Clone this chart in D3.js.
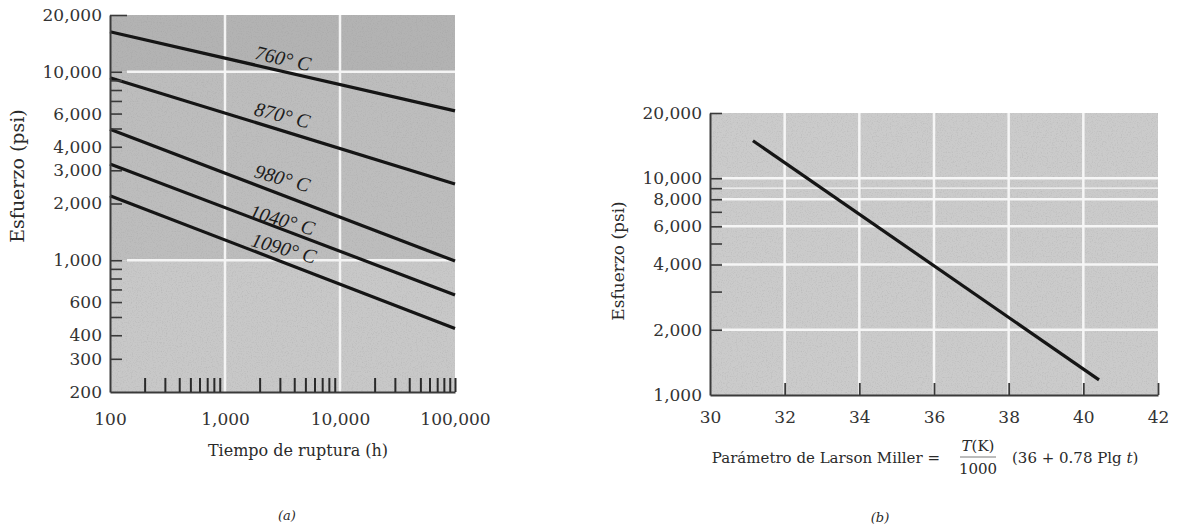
<!DOCTYPE html>
<html>
<head>
<meta charset="utf-8">
<script src="https://cdn.jsdelivr.net/npm/d3@7"></script>
<style>
  body { margin: 0; background: #ffffff; }
  svg text { font-family: "DejaVu Serif", "Liberation Serif", serif; fill: #2a2a2a; }
</style>
</head>
<body>
<svg id="fig" width="1189" height="529"></svg>
<script>
// ---- data ----
// (a) rupture time vs stress, one series per temperature
const ruptureHours = [100, 100000];
const tempLabels = ["760° C", "870° C", "980° C", "1040° C", "1090° C"];
const stress760 = [16300, 6200];
const stress870 = [9300, 2540];
const stress980 = [4950, 990];
const stress1040 = [3240, 655];
const stress1090 = [2200, 435];
const curveStress = [stress760, stress870, stress980, stress1040, stress1090];
// where the temperature labels sit (hours, psi) and their tilt
const labelHours = [3200, 3150, 3150, 3150, 3250];
const labelStress = [11800, 5900, 2730, 1640, 1160];
const labelAngle = [13, 14, 16, 16, 16];

const yTicksA = [20000, 10000, 6000, 4000, 3000, 2000, 1000, 600, 400, 300, 200];
const yMinorA = [20000, 10000, 9000, 8000, 7000, 6000, 5000, 4000, 3000, 2000,
                 1000, 900, 800, 700, 600, 500, 400, 300];
const xTicksA = [100, 1000, 10000, 100000];
const xMinorA = [200, 300, 400, 500, 600, 700, 800, 900,
                 2000, 3000, 4000, 5000, 6000, 7000, 8000, 9000,
                 20000, 30000, 40000, 50000, 60000, 70000, 80000, 90000, 100000];

// (b) Larson-Miller parameter vs stress
const lmParam = [31.15, 40.42];
const lmStress = [14900, 1175];
const yTicksB = [20000, 10000, 8000, 6000, 4000, 2000, 1000];
const yMinorB = [20000, 10000, 9000, 8000, 7000, 6000, 5000, 4000, 3000, 2000];
const yGridB = [10000, 9000, 8000, 6000, 4000, 2000];
const xTicksB = [30, 32, 34, 36, 38, 40, 42];
const xGridB = [32, 34, 36, 38, 40];

const fmt = d3.format(",");
const svg = d3.select("#fig");

// speckled paper texture
const defs = svg.append("defs");
const f = defs.append("filter").attr("id", "speck").attr("x", 0).attr("y", 0).attr("width", 1).attr("height", 1);
f.append("feTurbulence").attr("type", "fractalNoise").attr("baseFrequency", 0.8).attr("numOctaves", 2).attr("seed", 4);
f.append("feColorMatrix").attr("type", "matrix")
  .attr("values", "0 0 0 0 0.25  0 0 0 0 0.25  0 0 0 0 0.25  0 0 0 -2.6 1.35");
f.append("feComposite").attr("in2", "SourceGraphic").attr("operator", "in");

// ================= chart (a) =================
const xA = d3.scaleLog().domain([100, 100000]).range([110, 455]);
const yA = d3.scaleLog().domain([200, 20000]).range([392, 15]);

const gA = svg.append("g");
// shaded bands
gA.append("rect").attr("x", xA(100)).attr("y", yA(20000))
  .attr("width", xA(100000) - xA(100)).attr("height", yA(10000) - yA(20000)).attr("fill", "#b3b3b3");
gA.append("rect").attr("x", xA(100)).attr("y", yA(10000))
  .attr("width", xA(100000) - xA(100)).attr("height", yA(1000) - yA(10000)).attr("fill", "#bdbdbd");
gA.append("rect").attr("x", xA(100)).attr("y", yA(1000))
  .attr("width", xA(100000) - xA(100)).attr("height", yA(200) - yA(1000)).attr("fill", "#c8c8c8");
gA.append("rect").attr("x", xA(100)).attr("y", yA(20000))
  .attr("width", xA(100000) - xA(100)).attr("height", yA(200) - yA(20000))
  .attr("fill", "#888").attr("filter", "url(#speck)").attr("opacity", 0.2);

// white grid
gA.selectAll(".gx").data([1000, 10000]).enter().append("line")
  .attr("x1", d => xA(d)).attr("x2", d => xA(d))
  .attr("y1", yA(20000)).attr("y2", yA(200))
  .attr("stroke", "#f4f4f4").attr("stroke-width", 2.5);
gA.selectAll(".gy").data([1000, 10000]).enter().append("line")
  .attr("x1", xA(100) + 17).attr("x2", xA(100000))
  .attr("y1", d => yA(d)).attr("y2", d => yA(d))
  .attr("stroke", "#f4f4f4").attr("stroke-width", 2.5);

// curves
const lineA = d3.line().x(d => xA(d[0])).y(d => yA(d[1]));
gA.selectAll(".curve").data(curveStress).enter().append("path")
  .attr("d", s => lineA(ruptureHours.map((h, i) => [h, s[i]])))
  .attr("fill", "none").attr("stroke", "#151515").attr("stroke-width", 3.2);

gA.selectAll(".tlab").data(tempLabels).enter().append("text")
  .attr("transform", (d, i) => `translate(${xA(labelHours[i])},${yA(labelStress[i])}) rotate(${labelAngle[i]})`)
  .attr("text-anchor", "middle").attr("dy", "0.35em")
  .style("font-family", "'Liberation Serif', serif").style("font-style", "italic")
  .style("font-size", "20px").style("fill", "#1c1c1c")
  .text(d => d);

// axes
const axYA = gA.append("g").attr("transform", `translate(${xA(100)},0)`)
  .call(d3.axisLeft(yA).tickValues(yTicksA).tickSize(0).tickPadding(8).tickFormat(fmt));
axYA.select(".domain").attr("stroke", "#3a3a3a").attr("stroke-width", 2);
axYA.selectAll("text").style("font-size", "17px").style("fill", "#333");
const minYA = gA.append("g").attr("transform", `translate(${xA(100)},0)`)
  .call(d3.axisLeft(yA).tickValues(yMinorA).tickSize(-12).tickFormat(""));
minYA.select(".domain").remove();
minYA.selectAll("line").attr("stroke", "#3a3a3a").attr("stroke-width", 1.6);
minYA.selectAll(".tick").filter(d => d === 20000).select("line").attr("x2", 17);

const axXA = gA.append("g").attr("transform", `translate(0,${yA(200)})`)
  .call(d3.axisBottom(xA).tickValues(xTicksA).tickSize(0).tickPadding(21).tickFormat(fmt));
axXA.select(".domain").attr("stroke", "#3a3a3a").attr("stroke-width", 2);
axXA.selectAll("text").style("font-size", "17px").style("fill", "#333");
const minXA = gA.append("g").attr("transform", `translate(0,${yA(200)})`)
  .call(d3.axisBottom(xA).tickValues(xMinorA).tickSize(-14).tickFormat(""));
minXA.select(".domain").remove();
minXA.selectAll("line").attr("stroke", "#2a2a2a").attr("stroke-width", 2);

gA.append("text").attr("transform", "translate(24,176) rotate(-90)")
  .attr("text-anchor", "middle").style("font-size", "19px").text("Esfuerzo (psi)");
gA.append("text").attr("x", 298).attr("y", 456)
  .attr("text-anchor", "middle").style("font-size", "16px").text("Tiempo de ruptura (h)");
gA.append("text").attr("x", 287).attr("y", 520)
  .attr("text-anchor", "middle").style("font-size", "13px").style("font-style", "italic").text("(a)");

// ================= chart (b) =================
const xB = d3.scaleLinear().domain([30, 42]).range([710, 1158]);
const yB = d3.scaleLog().domain([1000, 20000]).range([395, 113]);

const gB = svg.append("g");
gB.append("rect").attr("x", xB(30)).attr("y", yB(20000))
  .attr("width", xB(42) - xB(30)).attr("height", yB(1000) - yB(20000)).attr("fill", "#cbcbcb");
gB.append("rect").attr("x", xB(30)).attr("y", yB(20000))
  .attr("width", xB(42) - xB(30)).attr("height", yB(1000) - yB(20000))
  .attr("fill", "#888").attr("filter", "url(#speck)").attr("opacity", 0.2);

gB.selectAll(".gx").data(xGridB).enter().append("line")
  .attr("x1", d => xB(d)).attr("x2", d => xB(d))
  .attr("y1", yB(20000)).attr("y2", yB(1000))
  .attr("stroke", "#f6f6f6").attr("stroke-width", 2.5);
gB.selectAll(".gy").data(yGridB).enter().append("line")
  .attr("x1", xB(30) + 12).attr("x2", xB(42))
  .attr("y1", d => yB(d)).attr("y2", d => yB(d))
  .attr("stroke", "#f6f6f6").attr("stroke-width", d => d === 9000 ? 1.2 : 2.5);

const lineB = d3.line().x(d => xB(d[0])).y(d => yB(d[1]));
gB.append("path").attr("d", lineB(lmParam.map((p, i) => [p, lmStress[i]])))
  .attr("fill", "none").attr("stroke", "#151515").attr("stroke-width", 3.2);

const axYB = gB.append("g").attr("transform", `translate(${xB(30)},0)`)
  .call(d3.axisLeft(yB).tickValues(yTicksB).tickSize(0).tickPadding(8).tickFormat(fmt));
axYB.select(".domain").attr("stroke", "#3a3a3a").attr("stroke-width", 2);
axYB.selectAll("text").style("font-size", "17px").style("fill", "#333");
const minYB = gB.append("g").attr("transform", `translate(${xB(30)},0)`)
  .call(d3.axisLeft(yB).tickValues(yMinorB).tickSize(-12).tickFormat(""));
minYB.select(".domain").remove();
minYB.selectAll("line").attr("stroke", "#3a3a3a").attr("stroke-width", 1.6);

const axXB = gB.append("g").attr("transform", `translate(0,${yB(1000)})`)
  .call(d3.axisBottom(xB).tickValues(xTicksB).tickSize(0).tickPadding(16).tickFormat(d3.format("d")));
axXB.select(".domain").attr("stroke", "#3a3a3a").attr("stroke-width", 2);
axXB.selectAll("text").style("font-size", "17px").style("fill", "#333");
const minXB = gB.append("g").attr("transform", `translate(0,${yB(1000)})`)
  .call(d3.axisBottom(xB).tickValues(xTicksB.slice(1)).tickSize(-12).tickFormat(""));
minXB.select(".domain").remove();
minXB.selectAll("line").attr("stroke", "#3a3a3a").attr("stroke-width", 1.8);

gB.append("text").attr("transform", "translate(624,261) rotate(-90)")
  .attr("text-anchor", "middle").style("font-size", "17px").text("Esfuerzo (psi)");

// x label with the fraction
gB.append("text").attr("x", 940).attr("y", 463).attr("text-anchor", "end")
  .style("font-size", "15px").text("Parámetro de Larson Miller =");
const num = gB.append("text").attr("x", 978).attr("y", 451).attr("text-anchor", "middle").style("font-size", "15px");
num.append("tspan").style("font-style", "italic").text("T");
num.append("tspan").text("(K)");
gB.append("line").attr("x1", 960).attr("x2", 996).attr("y1", 457).attr("y2", 457)
  .attr("stroke", "#555").attr("stroke-width", 0.8);
gB.append("text").attr("x", 978).attr("y", 474).attr("text-anchor", "middle")
  .style("font-size", "15px").text("1000");
const par = gB.append("text").attr("x", 1012).attr("y", 463).style("font-size", "15px");
par.append("tspan").text("(36 + 0.78 Plg ");
par.append("tspan").style("font-style", "italic").text("t");
par.append("tspan").text(")");
gB.append("text").attr("x", 880).attr("y", 522)
  .attr("text-anchor", "middle").style("font-size", "13px").style("font-style", "italic").text("(b)");
</script>
</body>
</html>
